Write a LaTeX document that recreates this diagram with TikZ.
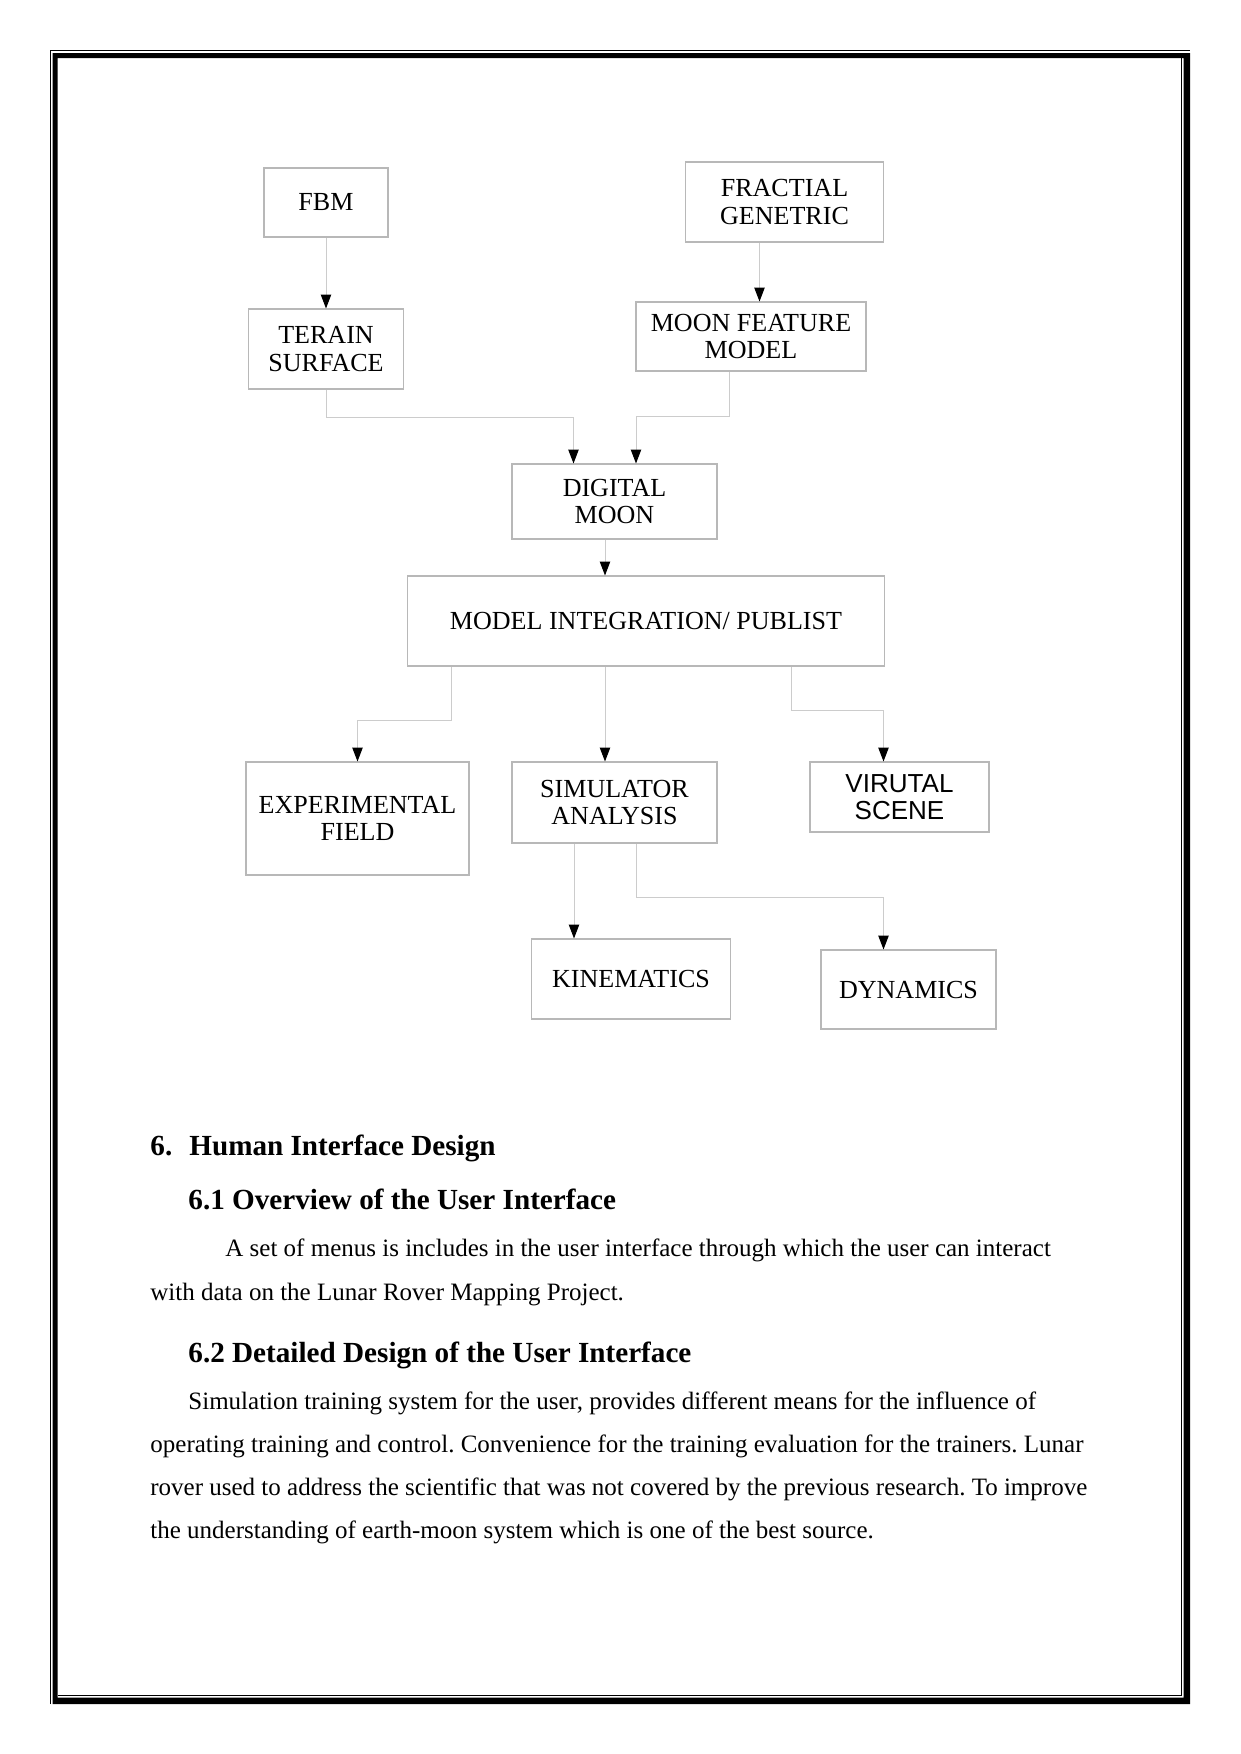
\documentclass[tikz,border=0pt]{standalone}
\usepackage{fontspec}
\setmainfont{Liberation Serif}
\newfontfamily\scenefont{Liberation Sans}
\usepackage{xcolor}
\usepackage{tikz}
\usetikzlibrary{arrows.meta, positioning}

\definecolor{boxgray}{HTML}{B8B8B8}
\definecolor{linegray}{HTML}{CCCCCC}

\tikzset{
  box/.style 2 args={draw=boxgray, line width=0.5pt, align=center, inner sep=0pt,
    minimum width=#1*0.48pt, minimum height=#2*0.48pt,
    font=\fontsize{12.5}{13}\selectfont},
  link/.style={draw=linegray, line width=0.48pt, -{Triangle[length=6.7pt,width=5pt,color=black]}},
  para/.style={anchor=base west, inner sep=0pt, font=\fontsize{12}{14}\selectfont},
  head/.style={anchor=base west, inner sep=0pt, font=\fontsize{14}{16}\selectfont\bfseries}
}
\frenchspacing

\begin{document}
\begin{tikzpicture}[x=0.48pt, y=-0.48pt]
        \useasboundingbox (0,0) rectangle (1241,1754);
        % page border
        \fill[black, even odd rule] (52.5,53) rectangle (1190,1704) (57.5,58) rectangle (1183.5,1697.5);
        \draw[line width=0.48pt] (50.5,1704) -- (50.5,50.5) -- (1190,50.5);
        \draw[line width=0.48pt] (1181.5,58) -- (1181.5,1695) -- (57.5,1695);
%
        \node[box={124}{69}] (fbm) at (326,202.5) {FBM};
        \node[box={198}{80}] (frac) at (784.5,202) {FRACTIAL\\GENETRIC};
        \node[box={155}{80}] (terain) at (326,349) {TERAIN\\SURFACE};
        \node[box={230}{69}] (feature) at (751,336.5) {MOON FEATURE\\MODEL};
        \node[box={205}{75}] (digital) at (614.5,501.5) {DIGITAL\\MOON};
        \node[box={477}{90}] (integ) at (646,621) {MODEL INTEGRATION/ PUBLIST};
        \node[box={223}{113}] (exper) at (357.5,818.5) {EXPERIMENTAL\\FIELD};
        \node[box={205}{81}] (simul) at (614.5,802.5) {SIMULATOR\\ANALYSIS};
        \node[box={179}{70}, font=\fontsize{12.5}{13}\scenefont] (scene) at (899.5,797) {VIRUTAL\\SCENE};
        \node[box={199}{80}] (kinem) at (631,979) {KINEMATICS};
        \node[box={175}{79}] (dynam) at (908.5,989.5) {DYNAMICS};
%
        \draw[link] (fbm.south) -- (terain.north);
        \draw[link] (frac.south -| 759.5,0) -- (feature.north -| 759.5,0);
        \draw[link] (terain.south) -- ++(0,27.7) -| (digital.north -| 573.5,0);
        \draw[link] (feature.south -| 729,0) -- ++(0,45) -| (digital.north -| 636,0);
        \draw[link] (digital.south -| 605,0) -- (integ.north -| 605,0);
        \draw[link] (integ.south -| 451,0) -- ++(0,54) -| (exper.north);
        \draw[link] (integ.south -| 605,0) -- (simul.north -| 605,0);
        \draw[link] (integ.south -| 791,0) -- ++(0,44) -| (scene.north -| 883.5,0);
        \draw[link] (simul.south -| 574,0) -- (kinem.north -| 574,0);
        \draw[link] (simul.south -| 636.5,0) -- ++(0,53.7) -| (dynam.north -| 883.5,0);
%
        \node[head] (h6) at (150,1155.5) {\makebox[18.7pt][l]{6.}Human Interface Design};
        \node[head] (h61) at (188,1209) {6.1 Overview of the User Interface};
        \node[para] (p1a) at (225,1256.7) {A set of menus is includes in the user interface through which the user can interact};
        \node[para] (p1b) at (150,1300) {with data on the Lunar Rover Mapping Project.};
        \node[head] (h62) at (188,1362) {6.2 Detailed Design of the User Interface};
        \node[para] (p2a) at (188,1409) {Simulation training system for the user, provides different means for the influence of};
        \node[para] (p2b) at (150,1452) {operating training and control. Convenience for the training evaluation for the trainers. Lunar};
        \node[para] (p2c) at (150,1495) {rover used to address the scientific that was not covered by the previous research. To improve};
        \node[para] (p2d) at (150,1538) {the understanding of earth-moon system which is one of the best source.};
\end{tikzpicture}
\end{document}
